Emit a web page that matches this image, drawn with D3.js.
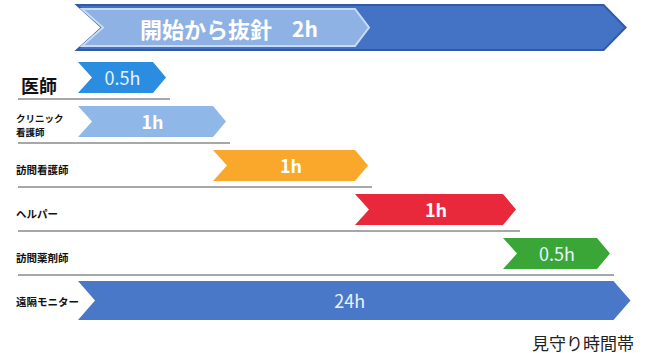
<!DOCTYPE html>
<html lang="ja">
<head>
<meta charset="UTF-8">
<title>見守り時間帯</title>
<script src="https://cdnjs.cloudflare.com/ajax/libs/d3/7.8.5/d3.min.js"></script>
<style>
  body { margin: 0; background: #fff; }
  text { font-family: "Noto Sans CJK JP", "Noto Sans", sans-serif; }
</style>
</head>
<body>
<div id="chart"></div>
<script>
// 行ごとのデータ
var roles  = ["医師", "クリニック\n看護師", "訪問看護師", "ヘルパー", "訪問薬剤師", "遠隔モニター"];
var starts = [0,   0,   1,   2,   3,   0];
var ends   = [0.5, 1,   2,   3,   3.5, 3.75];
var labels = ["0.5h", "1h", "1h", "1h", "0.5h", "24h"];
var colors = ["#2b8de0", "#8fb8e8", "#f9a82b", "#e8283b", "#3aa637", "#4a78c9"];

// 上のバナー
var bannerStart = [0, 0];
var bannerEnd   = [3.6, 2];
var bannerTitle = "開始から抜針";
var bannerHours = "2h";
var footer = "見守り時間帯";

var width = 656, height = 353;
var svg = d3.select("#chart").append("svg").attr("width", width).attr("height", height);

// 模式図なので区切りごとの比例尺
var x = d3.scaleLinear()
    .domain([0, 0.5, 1, 2, 3, 3.5, 4])
    .range([78, 153, 213, 355, 503, 597, 630]);
var y = d3.scaleBand().domain(roles).range([62, 62 + 44 * roles.length]);

function chevron(x0, x1, y0, h, notch, tip) {
    return "M" + x0 + "," + y0 + "L" + x1 + "," + y0 + "L" + (x1 + tip) + "," + (y0 + h / 2) +
        "L" + x1 + "," + (y0 + h) + "L" + x0 + "," + (y0 + h) + "L" + (x0 + notch) + "," + (y0 + h / 2) + "Z";
}

// バナー
svg.append("path")
    .attr("d", chevron(x(bannerStart[0]) - 1, x(bannerEnd[0]), 5, 45, 25, 22))
    .attr("fill", "#4472c4").attr("stroke", "#2f5ba8").attr("stroke-width", 2);
svg.append("path")
    .attr("d", chevron(x(bannerStart[1]) + 4, x(bannerEnd[1]), 9, 37, 21, 14))
    .attr("fill", "#8fb2e4").attr("stroke", "#c9dcf5").attr("stroke-width", 2);
svg.append("text")
    .attr("x", x(bannerStart[1]) + 62).attr("y", 28)
    .attr("dominant-baseline", "central")
    .attr("fill", "#fff").attr("font-size", 22).attr("font-weight", "bold")
    .text(bannerTitle);
svg.append("text")
    .attr("x", x(bannerStart[1]) + 214).attr("y", 28)
    .attr("dominant-baseline", "central")
    .attr("font-family", "'Open Sans', 'Noto Sans', sans-serif")
    .attr("fill", "#fff").attr("font-size", 21).attr("font-weight", "bold")
    .text(bannerHours);

var last = roles.length - 1;

// 区切り線
svg.selectAll("line.sep").data(roles.slice(0, last)).enter().append("line")
    .attr("class", "sep")
    .attr("x1", 18)
    .attr("x2", function (d, i) { return x(ends[i]) + 17; })
    .attr("y1", function (d) { return y(d) + 37; })
    .attr("y2", function (d) { return y(d) + 37; })
    .attr("stroke", "#8a8a8a").attr("stroke-width", 1.4);

// 矢印
svg.selectAll("path.bar").data(roles).enter().append("path")
    .attr("class", "bar")
    .attr("d", function (d, i) {
        var h = i === last ? 39 : 31;
        var top = i === last ? y(d) - 1 : y(d);
        return chevron(x(starts[i]), x(ends[i]), top, h, i === last ? 17 : 14, i === last ? 17 : 13);
    })
    .attr("fill", function (d, i) { return colors[i]; });

svg.selectAll("text.val").data(roles).enter().append("text")
    .attr("class", "val")
    .attr("x", function (d, i) { return (x(starts[i]) + x(ends[i])) / 2 + (i === last ? 4 : 7); })
    .attr("y", function (d, i) { return y(d) + (i === last ? 18 : 15); })
    .attr("text-anchor", "middle").attr("dominant-baseline", "central")
    .attr("font-family", "'Open Sans', 'Noto Sans', sans-serif")
    .attr("font-size", 18)
    .attr("font-weight", function (d, i) { return labels[i] === "1h" ? "bold" : "normal"; })
    .attr("fill", function (d, i) { return labels[i] === "1h" ? "#fff" : "#e6f4ff"; })
    .text(function (d, i) { return labels[i]; });

// 職種ラベル
svg.selectAll("text.role").data(roles).enter().append("text")
    .attr("class", "role")
    .attr("x", function (d, i) { return i === 0 ? 21 : 16; })
    .attr("y", function (d, i) { return y(d) + (i === 0 ? 23 : 19); })
    .attr("dominant-baseline", "central")
    .attr("font-size", function (d, i) { return i === 0 ? 18 : 10.5; })
    .attr("font-weight", "bold")
    .attr("fill", "#111")
    .each(function (d) {
        var parts = d.split("\n");
        var t = d3.select(this);
        parts.forEach(function (p, k) {
            t.append("tspan").attr("x", t.attr("x"))
                .attr("dy", k === 0 ? (parts.length > 1 ? -7 : 0) : 14)
                .attr("font-size", parts.length > 1 ? 9.5 : null)
                .text(p);
        });
    });

svg.append("text")
    .attr("x", 532).attr("y", 342)
    .attr("dominant-baseline", "central")
    .attr("font-size", 17).attr("fill", "#222")
    .text(footer);
</script>
</body>
</html>
